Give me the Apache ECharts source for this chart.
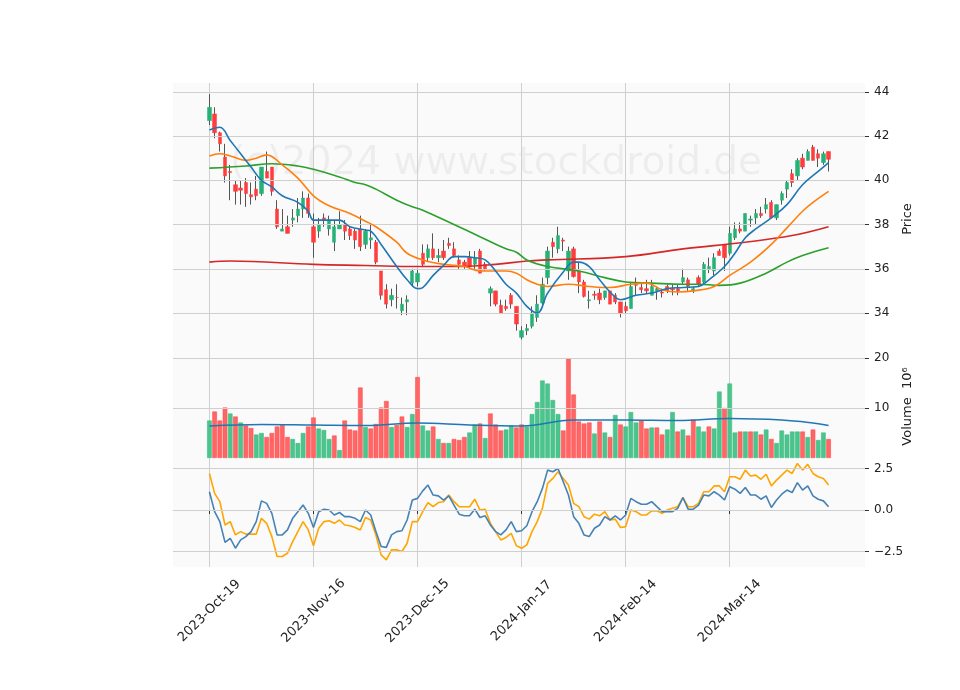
<!DOCTYPE html>
<html><head><meta charset="utf-8">
<script src="https://cdn.jsdelivr.net/npm/echarts@6/dist/echarts.min.js"></script>
<style>html,body{margin:0;padding:0;background:#fff}#c{width:960px;height:690px}</style>
</head><body><div id="c"></div>
<script>
// ---- data ----
const startDate = '2023-10-19';
const holidays = ['2023-11-23','2023-12-25','2024-01-01','2024-01-15','2024-02-19'];
const labelIdx = [0,20,40,60,80,100];
const priceTicks = [34,36,38,40,42,44];
const volTicks = [10,20];
const oscTicks = [-2.5,0,2.5];
const open  = [42.7,43.0,42.15,41.05,40.4,39.8,39.65,39.9,39.35,39.6,39.4,40.4,40.6,38.7,37.7,37.9,38.2,38.4,38.7,39.2,37.9,37.7,38.3,37.8,37.2,37.8,38.0,37.8,37.7,37.8,37.1,37.3,37.2,35.9,35.05,34.6,34.7,34.1,34.5,35.35,35.4,36.7,36.5,36.9,36.5,36.8,37.15,36.9,36.4,36.3,36.5,36.2,36.8,36.2,34.9,35.0,34.35,34.3,34.8,34.3,32.9,33.2,33.4,33.8,34.45,35.6,37.2,36.9,37.3,35.9,36.9,35.9,35.4,34.55,34.85,34.9,34.7,35.0,34.8,34.5,34.3,34.2,35.3,35.15,35.1,34.8,35.0,34.95,35.2,35.1,35.1,35.4,35.5,35.0,35.6,35.4,36.0,35.9,36.8,37.1,36.7,37.4,37.8,37.7,38.2,38.3,38.5,38.7,39.0,38.3,39.1,39.6,40.3,40.2,41.0,40.9,41.5,41.2,40.8,41.3];
const high  = [43.9,43.3,42.2,41.65,40.7,40.0,40.0,40.1,39.9,40.2,40.6,41.3,40.6,39.1,38.7,38.4,38.7,39.2,39.5,39.4,38.5,38.3,38.5,38.4,38.2,38.6,38.2,37.9,37.8,38.4,37.8,38.0,37.3,35.9,35.3,35.1,35.3,34.7,34.8,36.0,36.0,37.1,37.1,37.6,36.9,37.3,37.4,37.2,36.6,36.4,36.8,36.8,36.9,36.3,35.2,35.0,34.6,34.6,34.9,34.3,33.4,33.5,34.3,34.8,35.6,37.0,37.4,37.9,37.4,37.0,37.0,36.3,35.5,35.0,35.0,35.1,35.0,35.0,34.9,34.5,34.5,35.4,35.6,35.4,35.5,35.5,35.2,35.1,35.3,35.3,35.3,36.0,35.6,35.2,35.7,36.3,36.5,36.7,36.9,37.1,37.9,38.1,38.1,38.5,38.4,38.7,38.8,39.2,39.1,38.9,39.5,40.0,40.5,41.0,41.2,41.4,41.6,41.4,41.3,41.3];
const low   = [42.5,41.9,41.3,39.9,39.1,38.9,38.9,38.8,38.9,39.1,39.3,40.1,39.3,37.8,37.7,37.6,37.9,38.1,38.3,38.3,36.5,37.4,37.9,37.5,36.8,37.8,37.3,37.3,36.9,36.8,36.9,36.9,36.2,34.6,34.2,34.3,34.2,33.9,33.9,35.2,35.2,36.1,36.3,36.4,36.3,36.4,36.9,36.5,36.0,36.0,36.0,36.0,35.8,35.9,34.3,34.3,33.95,34.1,34.2,33.2,32.8,33.0,33.3,33.6,34.3,35.3,36.5,36.7,36.8,35.5,35.6,34.9,34.7,34.2,34.6,34.4,34.6,34.4,34.4,33.8,34.0,34.2,34.8,34.9,34.9,34.8,34.6,34.7,34.9,34.8,34.8,35.3,35.0,34.9,35.2,35.3,35.8,35.7,36.6,35.9,36.6,37.3,37.6,37.7,37.9,38.0,38.3,38.5,38.3,38.2,38.9,39.2,39.7,40.0,40.5,40.9,40.9,40.6,40.7,40.4];
const close = [43.3,42.15,41.65,40.2,40.35,39.5,39.55,39.4,39.25,39.3,40.6,40.1,39.5,37.9,37.8,37.6,38.3,38.7,39.2,38.5,37.2,38.0,38.2,38.2,37.9,38.0,37.7,37.5,37.3,37.0,37.7,37.4,36.3,34.8,34.4,34.8,34.7,34.4,34.6,35.9,35.8,36.2,36.9,36.5,36.6,36.5,37.05,36.6,36.2,36.1,36.1,36.5,35.8,36.0,35.1,34.4,34.0,34.2,34.4,33.5,33.2,33.3,34.0,34.4,35.3,36.8,37.0,37.5,37.25,36.8,35.65,35.4,34.75,34.6,34.8,34.6,35.0,34.4,34.5,34.0,34.1,35.2,35.25,35.05,35.0,35.2,35.1,34.9,35.0,35.05,35.0,35.6,35.2,35.1,35.3,36.2,36.1,36.5,36.6,36.5,37.6,37.8,37.7,38.5,38.25,38.5,38.4,38.9,38.3,38.9,39.4,39.9,39.9,40.9,40.6,41.3,40.9,41.0,41.2,40.95];
const volume = [7.5,9.3,7.5,10.1,8.9,8.3,7.1,6.5,6.0,4.7,5.0,4.2,5.0,6.3,6.6,4.2,3.8,3.0,5.0,6.3,8.1,5.9,5.6,3.8,4.5,1.6,7.5,5.7,5.5,14.1,6.2,5.9,6.8,10.1,11.4,6.2,6.6,8.3,6.2,8.8,16.2,6.5,5.5,6.3,3.8,3.0,3.0,3.8,3.6,4.2,5.1,6.7,6.9,4.0,8.9,6.7,5.5,5.7,6.5,6.1,6.7,6.3,8.8,11.2,15.5,14.9,11.6,8.8,5.5,19.9,12.7,7.3,6.9,7.1,4.9,7.3,5.1,4.2,8.6,6.7,6.3,9.2,7.1,7.5,5.9,6.1,6.1,4.7,5.7,9.2,5.3,5.7,4.5,7.7,6.3,5.3,6.3,5.9,13.3,10.0,14.9,5.1,5.3,5.3,5.3,5.3,4.7,5.7,3.8,3.0,5.5,4.7,5.3,5.3,5.3,4.2,5.7,3.6,5.1,3.8];
// moving averages read at sample points [index, value]
const maBlue   = [[0,42.28],[2,42.4],[4,41.8],[6,41.2],[8,40.6],[10,40.0],[12,39.7],[14,39.3],[17,39.0],[19,38.6],[20,38.2],[23,38.2],[25,38.2],[27,37.9],[30,37.75],[31,37.7],[33,37.1],[36,36.1],[38,35.5],[40,35.1],[41,35.15],[43,35.7],[45,36.15],[47,36.55],[49,36.55],[51,36.5],[53,36.4],[55,35.9],[57,35.3],[59,34.9],[61,34.3],[63,34.0],[65,34.9],[68,35.85],[70,36.3],[71,36.3],[73,36.1],[75,35.5],[77,34.95],[79,34.6],[82,34.8],[85,34.9],[88,35.1],[91,35.15],[94,35.2],[96,35.5],[99,36.1],[101,36.7],[103,37.4],[105,37.8],[108,38.3],[111,38.9],[114,39.8],[117,40.4],[119,40.8]];
const maOrange = [[0,41.1],[2,41.2],[4,41.1],[7,40.9],[9,41.0],[11,41.15],[14,40.7],[17,40.1],[20,39.3],[23,38.85],[27,38.5],[30,38.15],[32,37.9],[36,37.2],[38,36.7],[41,36.4],[45,36.2],[49,36.1],[52,35.9],[57,35.9],[59,35.8],[61,35.5],[63,35.3],[65,35.2],[69,35.3],[73,35.2],[77,35.15],[81,35.3],[84,35.35],[87,35.05],[90,34.95],[93,35.0],[97,35.2],[100,35.7],[104,36.3],[108,37.1],[111,37.85],[114,38.6],[116,39.0],[119,39.5]];
const maGreen  = [[0,40.55],[7,40.65],[12,40.75],[17,40.65],[20,40.5],[25,40.15],[28,39.9],[30,39.8],[32,39.6],[36,39.1],[39,38.8],[41,38.65],[47,38.0],[52,37.45],[57,36.9],[59,36.75],[61,36.4],[65,36.1],[71,35.9],[76,35.6],[80,35.4],[85,35.35],[91,35.3],[94,35.3],[98,35.25],[102,35.35],[107,35.8],[111,36.3],[114,36.6],[119,36.95]];
const maRed    = [[0,36.3],[4,36.35],[20,36.2],[30,36.15],[40,36.1],[47,36.1],[55,36.2],[61,36.35],[65,36.4],[80,36.55],[91,36.9],[103,37.2],[112,37.5],[119,37.9]];
const volMA    = [[0,6.4],[10,6.7],[20,6.6],[30,6.5],[40,7.0],[50,6.6],[60,6.4],[70,7.6],[80,7.6],[90,7.5],[100,7.9],[110,7.6],[116,7.0],[119,6.5]];
const oscBlue  = [1.1,-0.1,-0.7,-1.95,-1.7,-2.3,-1.8,-1.6,-1.3,-0.7,0.55,0.4,-0.2,-1.5,-1.5,-1.2,-0.5,-0.1,0.3,-0.2,-1.05,-0.1,0.05,0,-0.3,-0.15,-0.4,-0.4,-0.5,-0.7,0,-0.3,-1.3,-2.2,-2.25,-1.5,-1.3,-1.25,-0.6,0.6,0.7,1.15,1.5,0.9,0.85,0.6,0.85,0.3,-0.25,-0.35,-0.35,0.05,-0.45,-0.35,-0.9,-1.3,-1.5,-1.2,-0.7,-1.3,-1.25,-0.95,-0.1,0.5,1.3,2.4,2.3,2.5,1.7,0.9,-0.4,-0.8,-1.5,-1.6,-1.1,-0.9,-0.4,-0.6,-0.35,-0.6,-0.3,0.7,0.5,0.35,0.35,0.5,0.2,-0.1,-0.1,-0.1,0.1,0.75,0.05,0.05,0.3,0.9,0.85,1.1,0.9,0.6,1.4,1.25,1.0,1.35,0.9,0.9,0.65,0.85,0.15,0.6,0.95,1.2,1.05,1.65,1.2,1.45,0.85,0.65,0.55,0.2];
const oscOrange= [2.2,1.0,0.5,-0.9,-0.7,-1.5,-1.3,-1.45,-1.45,-1.45,-0.5,-0.8,-1.6,-2.8,-2.8,-2.6,-1.9,-1.3,-0.7,-1.2,-2.15,-1.1,-0.7,-0.65,-0.8,-0.6,-0.9,-0.95,-1.05,-1.2,-0.45,-0.6,-1.5,-2.7,-3.0,-2.4,-2.4,-2.5,-2.0,-0.7,-0.7,-0.1,0.45,0.2,0.45,0.5,0.9,0.5,0.2,0.2,0.2,0.65,0,0.05,-0.8,-1.3,-1.8,-1.65,-1.4,-2.15,-2.3,-2.1,-1.3,-0.7,0.1,1.6,1.9,2.3,1.9,1.5,0.4,0.2,-0.4,-0.55,-0.25,-0.35,-0.1,-0.6,-0.55,-1.05,-1.0,0,-0.1,-0.3,-0.3,-0.05,-0.05,-0.2,0,0.1,0.2,0.75,0.2,0.2,0.4,1.1,1.1,1.45,1.45,1.1,2.0,2.0,1.85,2.4,2.05,2.1,1.85,2.15,1.45,1.8,2.1,2.4,2.2,2.8,2.4,2.75,2.2,2.0,1.9,1.5];

// ---- build ----
const PAD = 7, N = open.length, TOTAL = N + 2*PAD;
const months = ['Jan','Feb','Mar','Apr','May','Jun','Jul','Aug','Sep','Oct','Nov','Dec'];
const dates = [];
{ let d = new Date(startDate + 'T12:00:00Z');
  while (dates.length < N) {
    const wd = d.getUTCDay(); const iso = d.toISOString().slice(0,10);
    if (wd !== 0 && wd !== 6 && !holidays.includes(iso))
      dates.push(d.getUTCFullYear() + '-' + months[d.getUTCMonth()] + '-' + String(d.getUTCDate()).padStart(2,'0'));
    d = new Date(d.getTime() + 86400000);
  } }
const cats = [];
for (let k = 0; k < TOTAL; k++) { const i = k - PAD; cats.push(i >= 0 && i < N ? dates[i] : ' ' + k); }
const showIdx = new Set(labelIdx.map(i => i + PAD));
const pad = arr => { const a = new Array(TOTAL).fill('-'); arr.forEach((v,i)=>a[i+PAD]=v); return a; };
const sparse = pts => { const a = new Array(TOTAL).fill(null); pts.forEach(([i,v]) => a[i+PAD]=v); return a; };

const UP = '#26b276', DN = '#ff3d3d', UPV = '#4cc58d', DNV = '#ff6666';
const wicks = pad(open.map((o,i)=>[o, close[i], low[i], high[i]]));
const bodies = pad(open.map((o,i)=>[o, close[i], Math.min(o,close[i]), Math.max(o,close[i])]));
const volData = pad(volume.map((v,i)=>{ const up = (i===0||close[i]>=close[i-1]);
  return {value:v, itemStyle:{color:up?UPV:DNV, borderColor:up?'#3dbb82':'#ff4d4d', borderWidth:0.6}}; }));

const gridCol = '#cfcfcf';
const fontFam = 'DejaVu Sans';
const xBase = (gi, showLabels) => ({
  type:'category', gridIndex:gi, data:cats, boundaryGap:false,
  axisLine:{show:showLabels, lineStyle:{color:'#ddd'}}, axisTick:{show:showLabels, interval:(i)=>showIdx.has(i), length:4, lineStyle:{color:'#333'}},
  axisLabel:{show:showLabels, interval:(i)=>showIdx.has(i), rotate:45, align:'center', verticalAlign:'middle', color:'#222', fontSize:13, fontFamily:fontFam, margin:44},
  splitLine:{show:true, interval:(i)=>showIdx.has(i), lineStyle:{color:gridCol, width:1}}
});
const hline = (vals) => ({silent:true, symbol:'none', label:{show:false}, lineStyle:{color:gridCol, type:'solid', width:1}, data: vals.map(v=>({yAxis:v}))});
const yLab = {color:'#222', fontSize:12, fontFamily:fontFam, margin:9};
const yTick = (vals) => ({show:true, customValues:vals, length:4, lineStyle:{color:'#333'}});

const option = {
  animation:false, backgroundColor:'#fff',
  graphic:[{type:'text', left:230, top:144, z:0, silent:true, style:{text:'(c)2024 www.stockdroid.de', font:'39px "DejaVu Sans"', fill:'rgba(0,0,0,0.05)'}}],
  grid:[
    {left:173, right:95, top:83, height:272, show:true, backgroundColor:'#fafafa', borderWidth:0},
    {left:173, right:95, top:355, height:103, show:true, backgroundColor:'#fafafa', borderWidth:0},
    {left:173, right:95, top:458, height:109, show:true, backgroundColor:'#fafafa', borderWidth:0}
  ],
  xAxis:[xBase(0,false), xBase(1,false), xBase(2,true)],
  yAxis:[
    {gridIndex:0, position:'right', min:32.1, max:44.4,
     name:'Price', nameLocation:'middle', nameRotate:90, nameGap:36, nameTextStyle:{color:'#222', fontSize:13, fontFamily:fontFam},
     axisLine:{show:false}, axisTick:yTick(priceTicks),
     axisLabel:Object.assign({customValues:priceTicks, formatter:v=>String(v)}, yLab),
     splitLine:{show:false}},
    {gridIndex:1, position:'right', min:0, max:20.6,
     name:'Volume  10\u2076', nameLocation:'middle', nameRotate:90, nameGap:36, nameTextStyle:{color:'#222', fontSize:13, fontFamily:fontFam},
     axisLine:{show:false}, axisTick:yTick(volTicks),
     axisLabel:Object.assign({customValues:volTicks, formatter:v=>String(v)}, yLab),
     splitLine:{show:false}},
    {gridIndex:2, position:'right', min:-3.43, max:3.13,
     axisLine:{show:false}, axisTick:yTick(oscTicks),
     axisLabel:Object.assign({customValues:oscTicks, formatter:v=>(v<0?'\u2212':'')+Math.abs(v).toFixed(1)}, yLab),
     splitLine:{show:false}}
  ],
  series:[
    {type:'line', xAxisIndex:0, yAxisIndex:0, data:[], markLine:hline(priceTicks), silent:true},
    {type:'line', xAxisIndex:1, yAxisIndex:1, data:[], markLine:hline(volTicks), silent:true},
    {type:'line', xAxisIndex:2, yAxisIndex:2, data:[], markLine:hline(oscTicks), silent:true},
    {type:'candlestick', xAxisIndex:0, yAxisIndex:0, data:wicks, barWidth:1.2, z:3,
     itemStyle:{color:'#555', color0:'#555', borderColor:'#555', borderColor0:'#555', borderWidth:1}},
    {type:'candlestick', xAxisIndex:0, yAxisIndex:0, data:bodies, barWidth:3.8, z:4,
     itemStyle:{color:UP, color0:DN, borderColor:UP, borderColor0:DN, borderWidth:0.5}},
    {type:'line', xAxisIndex:0, yAxisIndex:0, data:sparse(maRed), connectNulls:true, smooth:0.4, showSymbol:false, lineStyle:{color:'#d62728', width:1.6}, z:5},
    {type:'line', xAxisIndex:0, yAxisIndex:0, data:sparse(maGreen), connectNulls:true, smooth:0.4, showSymbol:false, lineStyle:{color:'#2ca02c', width:1.6}, z:5},
    {type:'line', xAxisIndex:0, yAxisIndex:0, data:sparse(maOrange), connectNulls:true, smooth:0.4, showSymbol:false, lineStyle:{color:'#ff7f0e', width:1.6}, z:5},
    {type:'line', xAxisIndex:0, yAxisIndex:0, data:sparse(maBlue), connectNulls:true, smooth:0.4, showSymbol:false, lineStyle:{color:'#1f77b4', width:1.6}, z:5},
    {type:'bar', xAxisIndex:1, yAxisIndex:1, data:volData, barWidth:4.6, barGap:'0%'},
    {type:'line', xAxisIndex:1, yAxisIndex:1, data:sparse(volMA), connectNulls:true, smooth:0.4, showSymbol:false, lineStyle:{color:'#1f77b4', width:1.6}, z:5},
    {type:'line', xAxisIndex:2, yAxisIndex:2, data:pad(oscOrange), showSymbol:false, lineStyle:{color:'#ffa500', width:1.6}},
    {type:'line', xAxisIndex:2, yAxisIndex:2, data:pad(oscBlue), showSymbol:false, lineStyle:{color:'#4682b4', width:1.6}}
  ]
};
echarts.init(document.getElementById('c'), null, {renderer:'canvas'}).setOption(option);
</script></body></html>
